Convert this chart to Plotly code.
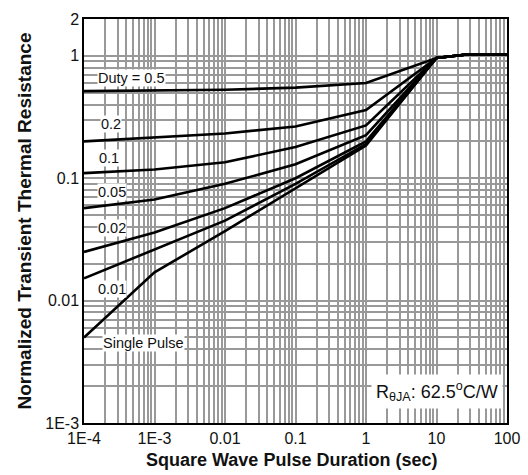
import plotly.graph_objects as go
import math

# ---- data ----
pulse_time = [1e-4, 1e-3, 1e-2, 1e-1, 1, 10, 25, 100]
duty_05 = [0.515, 0.52, 0.528, 0.55, 0.60, 0.96, 1.02, 1.03]
duty_02 = [0.20, 0.215, 0.232, 0.265, 0.36, 0.96, 1.02, 1.03]
duty_01 = [0.11, 0.118, 0.135, 0.18, 0.27, 0.96, 1.02, 1.03]
duty_005 = [0.057, 0.067, 0.09, 0.13, 0.225, 0.96, 1.02, 1.03]
duty_002 = [0.025, 0.036, 0.057, 0.10, 0.20, 0.96, 1.02, 1.03]
duty_001 = [0.0152, 0.026, 0.045, 0.09, 0.19, 0.96, 1.02, 1.03]
single_pulse = [0.005, 0.017, 0.037, 0.083, 0.185, 0.96, 1.02, 1.03]

series = [duty_05, duty_02, duty_01, duty_005, duty_002, duty_001, single_pulse]
series_names = ["Duty = 0.5", "0.2", "0.1", "0.05", "0.02", "0.01", "Single Pulse"]

x_labels = {1e-4: "1E-4", 1e-3: "1E-3", 1e-2: "0.01", 1e-1: "0.1", 1: "1", 10: "10", 100: "100"}
y_labels = {1e-3: "1E-3", 1e-2: "0.01", 1e-1: "0.1", 1: "1", 2: "2"}

# label anchor positions (x value, y value)
label_pos = [(1.53e-4, 0.665), (1.69e-4, 0.275), (1.6e-4, 0.147), (1.53e-4, 0.077),
             (1.53e-4, 0.039), (1.53e-4, 0.0125), (1.8e-4, 0.0045)]

# ---- grid values ----
x_grid = [k * 10 ** d for d in range(-4, 2) for k in range(1, 10)] + [100]
y_grid = [k * 10 ** d for d in range(-3, 0) for k in range(1, 10)] + [1, 2]

def lab(v, table):
    for key, t in table.items():
        if abs(v - key) / key < 1e-6:
            return t
    return ""

fig = go.Figure()
for ys, nm in zip(series, series_names):
    fig.add_trace(go.Scatter(x=pulse_time, y=ys, mode="lines", name=nm,
                             line=dict(color="black", width=2.6), showlegend=False))

font_tick = dict(family="Liberation Sans, Arial", size=16, color="#111111")
fig.update_xaxes(type="log", range=[-4, 2], tickvals=x_grid,
                 ticktext=[lab(v, x_labels) for v in x_grid],
                 showgrid=True, gridcolor="#999999", gridwidth=1.6,
                 showline=True, linecolor="black", linewidth=1.5, mirror=True,
                 ticks="", tickfont=font_tick, zeroline=False, automargin=False)
fig.update_yaxes(type="log", range=[-3, math.log10(2)], tickvals=y_grid,
                 ticktext=[lab(v, y_labels) for v in y_grid],
                 showgrid=True, gridcolor="#999999", gridwidth=1.6,
                 showline=True, linecolor="black", linewidth=1.5, mirror=True,
                 ticks="", tickfont=font_tick, zeroline=False, automargin=False)

for (lx, ly), nm in zip(label_pos, series_names):
    fig.add_annotation(x=math.log10(lx), y=math.log10(ly), text=nm, showarrow=False,
                       xanchor="left", yanchor="middle", bgcolor="white", borderpad=0,
                       font=dict(family="Liberation Sans, Arial", size=14.5, color="#111111"))

fig.add_annotation(x=0.99, y=0.035, xref="paper", yref="paper", xanchor="right", yanchor="bottom",
                   text="R<sub>θJA</sub>: 62.5<sup>o</sup>C/W", showarrow=False, bgcolor="white",
                   borderpad=4, font=dict(family="Liberation Sans, Arial", size=18, color="#111111"))

fig.add_annotation(x=0.49, y=-0.062, xref="paper", yref="paper", xanchor="center", yanchor="top",
                   text="<b>Square Wave Pulse Duration (sec)</b>", showarrow=False,
                   font=dict(family="Liberation Sans, Arial", size=18, color="#111111"))
fig.add_annotation(x=-0.143, y=0.5, xref="paper", yref="paper", xanchor="center", yanchor="middle",
                   text="<b>Normalized Transient Thermal Resistance</b>", showarrow=False, textangle=-90,
                   font=dict(family="Liberation Sans, Arial", size=19, color="#111111"))

fig.update_layout(width=528, height=475, margin=dict(l=84, r=21, t=19, b=52, autoexpand=False),
                  paper_bgcolor="white", plot_bgcolor="white")

fig.write_html("out.html", config={"displayModeBar": False},
               post_script="document.body.style.margin='0';document.body.style.overflow='hidden';")
